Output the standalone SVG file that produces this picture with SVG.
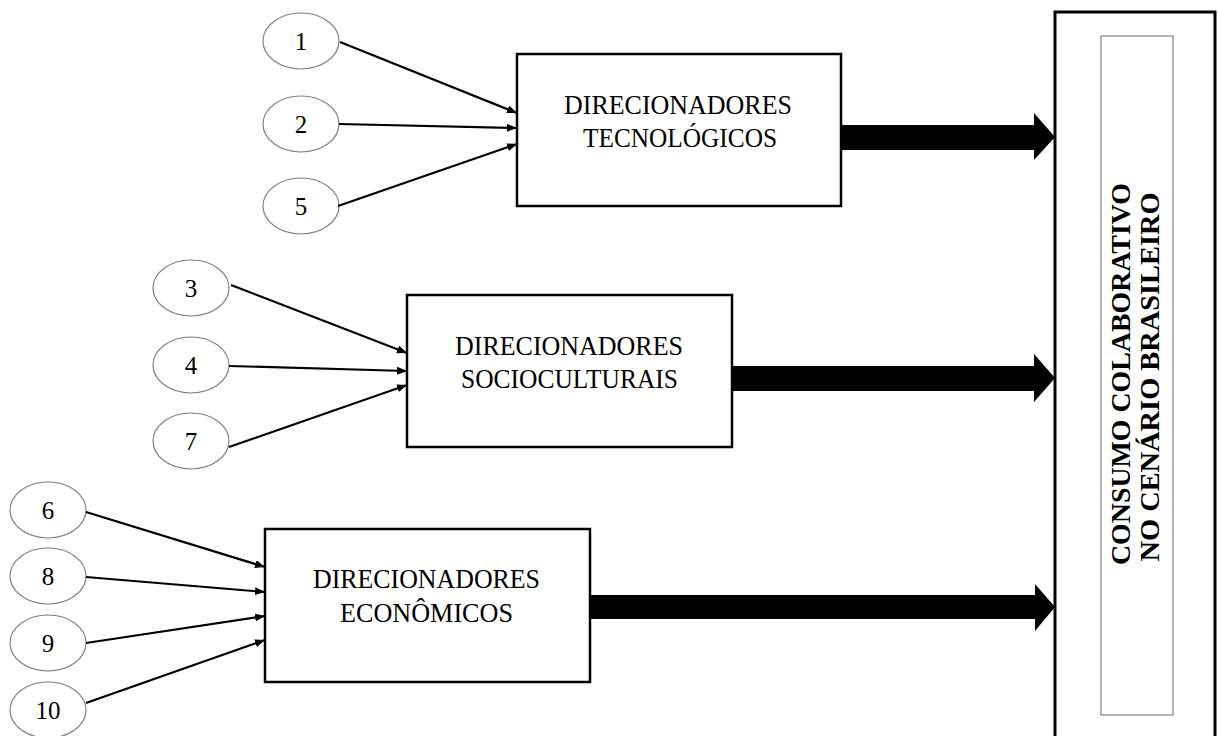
<svg xmlns="http://www.w3.org/2000/svg" width="1218" height="736" viewBox="0 0 1218 736">
<defs>
<style>
.ell{fill:#fff;stroke:#808080;stroke-width:1.2}
.num{font-family:"Liberation Serif","Times New Roman",serif;font-size:25px;fill:#000;text-anchor:middle}
.box{fill:#fff;stroke:#000;stroke-width:2.5}
.lbl{font-family:"Liberation Serif","Times New Roman",serif;font-size:28px;fill:#000;text-anchor:middle}
.con{stroke:#000;stroke-width:2.2;fill:none;marker-end:url(#ah)}
.big{fill:#000}
.vt{font-family:"Liberation Serif","Times New Roman",serif;font-size:28px;font-weight:bold;fill:#000;text-anchor:middle}
</style>
<marker id="ah" viewBox="0 0 10 8" refX="10" refY="4" markerWidth="10" markerHeight="8" markerUnits="userSpaceOnUse" orient="auto">
<path d="M0,0 L10,4 L0,8 Z" fill="#000"/>
</marker>
</defs>
<rect width="1218" height="736" fill="#fff"/>

<g id="n1"><ellipse class="ell" cx="301" cy="41" rx="38" ry="28"/><text class="num" x="301" y="50">1</text></g>
<g id="n2"><ellipse class="ell" cx="301" cy="124" rx="38" ry="28"/><text class="num" x="301" y="133">2</text></g>
<g id="n5"><ellipse class="ell" cx="301" cy="206" rx="38" ry="28"/><text class="num" x="301" y="215">5</text></g>
<g id="n3"><ellipse class="ell" cx="191" cy="288" rx="38" ry="28"/><text class="num" x="191" y="297">3</text></g>
<g id="n4"><ellipse class="ell" cx="191" cy="365" rx="38" ry="28"/><text class="num" x="191" y="374">4</text></g>
<g id="n7"><ellipse class="ell" cx="191" cy="441" rx="38" ry="28"/><text class="num" x="191" y="450">7</text></g>
<g id="n6"><ellipse class="ell" cx="48" cy="510" rx="38" ry="28"/><text class="num" x="48" y="519">6</text></g>
<g id="n8"><ellipse class="ell" cx="48" cy="576" rx="38" ry="28"/><text class="num" x="48" y="585">8</text></g>
<g id="n9"><ellipse class="ell" cx="48" cy="643" rx="38" ry="28"/><text class="num" x="48" y="652">9</text></g>
<g id="n10"><ellipse class="ell" cx="48" cy="710" rx="38" ry="28"/><text class="num" x="48" y="719">10</text></g>

<g id="tec"><rect class="box" x="517" y="54" width="324" height="152"/>
<text class="lbl" x="678" y="114" textLength="228" lengthAdjust="spacingAndGlyphs">DIRECIONADORES</text>
<text class="lbl" x="680" y="147" textLength="194" lengthAdjust="spacingAndGlyphs">TECNOLÓGICOS</text></g>

<g id="soc"><rect class="box" x="407" y="295" width="325" height="152"/>
<text class="lbl" x="569" y="355" textLength="228" lengthAdjust="spacingAndGlyphs">DIRECIONADORES</text>
<text class="lbl" x="569.5" y="388" textLength="217" lengthAdjust="spacingAndGlyphs">SOCIOCULTURAIS</text></g>

<g id="eco"><rect class="box" x="265" y="529" width="325" height="153"/>
<text class="lbl" x="426.5" y="588" textLength="227" lengthAdjust="spacingAndGlyphs">DIRECIONADORES</text>
<text class="lbl" x="426.5" y="622" textLength="173" lengthAdjust="spacingAndGlyphs">ECONÔMICOS</text></g>

<g id="consumo"><rect x="1055" y="12" width="160" height="740" fill="#fff" stroke="#000" stroke-width="3"/>
<rect x="1101" y="36" width="72" height="679" fill="#fff" stroke="#808080" stroke-width="1.2"/>
<text class="vt" transform="translate(1130,374) rotate(-90)" x="0" y="0" textLength="382" lengthAdjust="spacingAndGlyphs">CONSUMO COLABORATIVO</text>
<text class="vt" transform="translate(1159,377) rotate(-90)" x="0" y="0" textLength="369" lengthAdjust="spacingAndGlyphs">NO CENÁRIO BRASILEIRO</text></g>

<g id="connectors">
<line class="con" x1="340" y1="42" x2="517" y2="113"/>
<line class="con" x1="339" y1="124" x2="517" y2="128"/>
<line class="con" x1="338" y1="206" x2="517" y2="144"/>
<line class="con" x1="231" y1="285" x2="407" y2="353"/>
<line class="con" x1="229" y1="366" x2="407" y2="371"/>
<line class="con" x1="229" y1="447" x2="407" y2="385"/>
<line class="con" x1="86" y1="512" x2="265" y2="567"/>
<line class="con" x1="86" y1="577" x2="265" y2="592"/>
<line class="con" x1="86" y1="643" x2="265" y2="616"/>
<line class="con" x1="86" y1="703" x2="265" y2="640"/>
<path class="big" d="M842,125 L1034,125 L1034,113 L1055,137 L1034,160 L1034,150 L842,150 Z"/>
<path class="big" d="M733,366 L1034,366 L1034,354 L1055,378 L1034,402 L1034,391 L733,391 Z"/>
<path class="big" d="M591,595 L1035,595 L1035,584 L1055,607 L1035,631 L1035,619 L591,619 Z"/>
</g>
</svg>
